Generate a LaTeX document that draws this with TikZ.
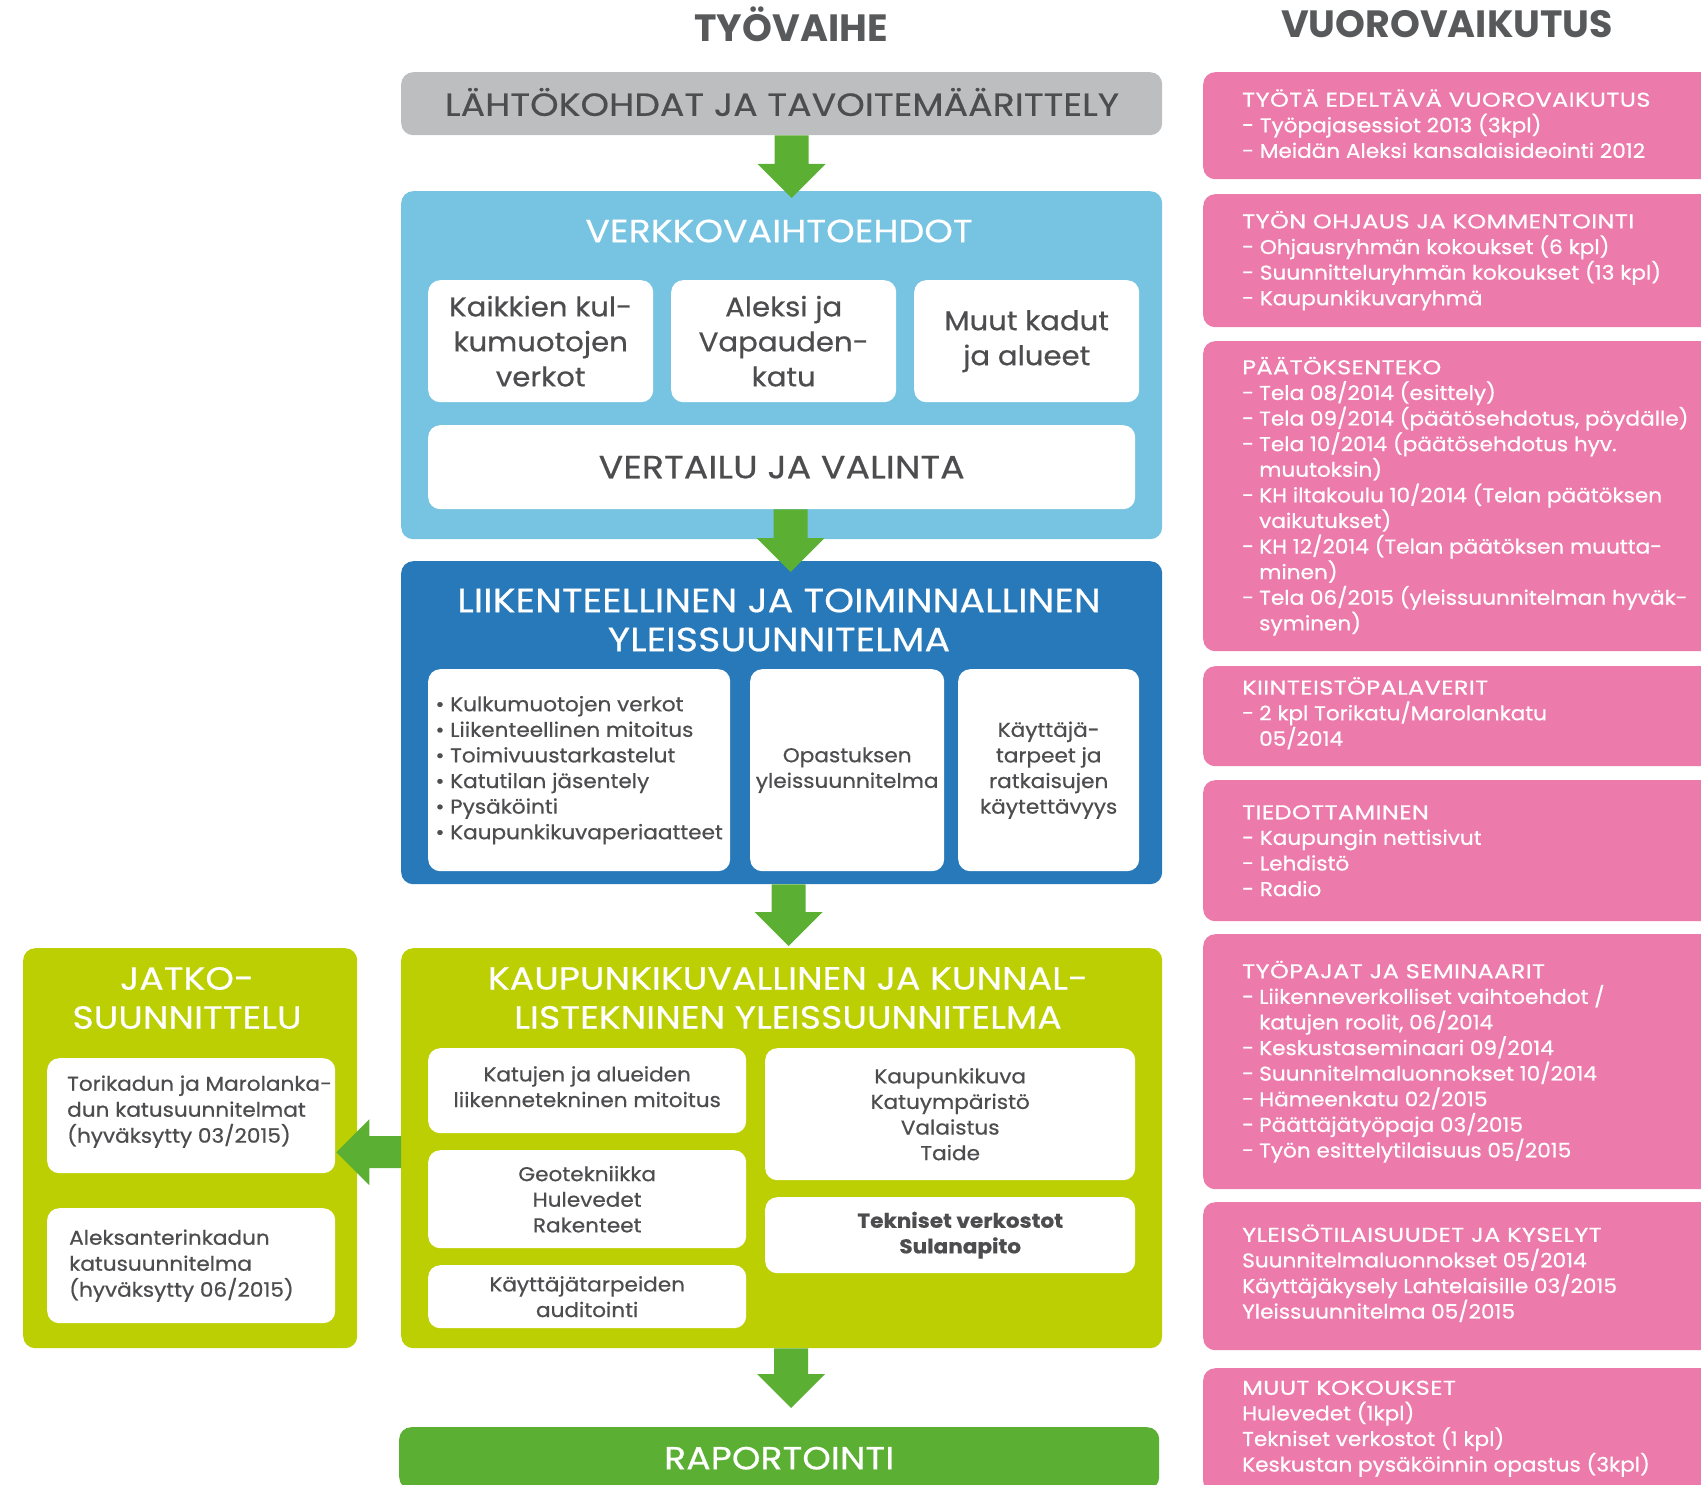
\documentclass[tikz,border=0pt]{standalone}
\usepackage{fontspec}
\setmainfont{Poppins}[FakeStretch=1.08, FakeBold=0.6]
\newfontfamily\capsfont{Poppins}[FakeStretch=1.13, FakeBold=0.6, LetterSpace=0.5]
\newfontfamily\rosecaps{Poppins}[FakeStretch=1.2, FakeBold=0.6, LetterSpace=2]
\newfontfamily\headfont{Poppins}
\usetikzlibrary{calc}

\definecolor{boxgray}{HTML}{BDBEC0}
\definecolor{textgray}{HTML}{4D4D4F}
\definecolor{headgray}{HTML}{58595B}
\definecolor{skyblue}{HTML}{76C4E2}
\definecolor{seablue}{HTML}{2779B9}
\definecolor{lime}{HTML}{BCCF02}
\definecolor{leafgreen}{HTML}{5BAF32}
\definecolor{rose}{HTML}{EC7BAC}

\newcommand\fs[2]{\fontsize{#1}{#2}\selectfont}
\newcommand\itemdash{\makebox[0.85em][l]{-}}
\newcommand\itemgap{\hspace*{0.85em}}

% block arrows: #1 start, #2 tip
\newcommand\arrowdown[2]{%
  \fill[leafgreen] let \p1=#1, \p2=#2 in
    (\x2-17pt,\y1) -- (\x2+17pt,\y1) -- (\x2+17pt,\y2+34pt) -- (\x2+34pt,\y2+34pt)
    -- (\x2,\y2) -- (\x2-34pt,\y2+34pt) -- (\x2-17pt,\y2+34pt) -- cycle;}
\newcommand\arrowleft[2]{%
  \fill[leafgreen] let \p1=#1, \p2=#2 in
    (\x1,\y2-16pt) -- (\x1,\y2+16pt) -- (\x2+33pt,\y2+16pt) -- (\x2+33pt,\y2+33pt)
    -- (\x2,\y2) -- (\x2+33pt,\y2-33pt) -- (\x2+33pt,\y2-16pt) -- cycle;}

\tikzset{
  panel/.style={rounded corners=12, inner sep=0, anchor=north west},
  card/.style={panel, fill=white, text=textgray, align=center, font=\fs{20}{25.6}},
  bigcard/.style={card, font=\fs{27}{35}},
  title/.style={text=white, align=center, inner sep=0, font=\capsfont\fs{32}{39}},
  rosebox/.style={panel, fill=rose, minimum width=520},
  rosetext/.style={anchor=west, align=left, inner sep=0, text=white, font=\fs{20}{25.6}},
  headline/.style={text=headgray, inner sep=0, font=\headfont\bfseries\fs{38}{44}}
}

\begin{document}
\begin{tikzpicture}[x=1pt, y=-1pt]
  \useasboundingbox (0,0) rectangle (1701,1485);
  \clip (0,0) rectangle (1701,1485);

  \node[headline] (tyovaihe) at (791,24) {TYÖVAIHE};
  \node[headline] (vuoro) at (1447,24) {VUOROVAIKUTUS};

  % tyovaihe column
  \node[panel, fill=boxgray, minimum width=761, minimum height=63] (lahto) at (401,72) {};
  \node[title, text=textgray] (lahtot) at (782,102) {LÄHTÖKOHDAT JA TAVOITEMÄÄRITTELY};

  \node[panel, fill=skyblue, minimum width=761, minimum height=348] (verkko) at (401,191) {};
  \node[title] (verkkot) at (779,231) {VERKKOVAIHTOEHDOT};
  \node[bigcard, minimum width=225, minimum height=122] (k1) at (428,280) {Kaikkien kul-\\kumuotojen\\verkot};
  \node[bigcard, minimum width=225, minimum height=122] (k2) at (671,280) {Aleksi ja\\Vapauden-\\katu};
  \node[bigcard, minimum width=225, minimum height=122] (k3) at (914,280) {Muut kadut\\ja alueet};
  \node[card, minimum width=707, minimum height=84, font=\capsfont\fs{32}{39}] (vertailu) at (428,425) {VERTAILU JA VALINTA};

  \node[panel, fill=seablue, minimum width=761, minimum height=323] (liik) at (401,561) {};
  \node[title, font=\capsfont\fs{33.5}{39}] (liikt) at (779,620) {LIIKENTEELLINEN JA TOIMINNALLINEN\\YLEISSUUNNITELMA};
  \node[card, align=left, minimum width=302, minimum height=202] (b1) at (428,669)
    {\textbullet\ Kulkumuotojen verkot\\\textbullet\ Liikenteellinen mitoitus\\\textbullet\ Toimivuustarkastelut\\
     \textbullet\ Katutilan jäsentely\\\textbullet\ Pysäköinti\\\textbullet\ Kaupunkikuvaperiaatteet};
  \node[card, minimum width=194, minimum height=202] (b2) at (750,669) {Opastuksen\\yleissuunnitelma};
  \node[card, minimum width=181, minimum height=202] (b3) at (958,669) {Käyttäjä-\\tarpeet ja\\ratkaisujen\\käytettävyys};

  \node[panel, fill=lime, minimum width=761, minimum height=400] (kaup) at (401,948) {};
  \node[title] (kaupt) at (788,998) {KAUPUNKIKUVALLINEN JA KUNNAL-\\LISTEKNINEN YLEISSUUNNITELMA};
  \node[card, minimum width=318, minimum height=85] (g1) at (428,1048) {};
  \node[text=textgray, align=center, inner sep=0, font=\fs{20}{25.6}] (g1t) at ([yshift=4]g1.center) {Katujen ja alueiden\\liikennetekninen mitoitus};
  \node[card, minimum width=318, minimum height=98] (g2) at (428,1150) {Geotekniikka\\Hulevedet\\Rakenteet};
  \node[card, minimum width=318, minimum height=63] (g3) at (428,1265) {Käyttäjätarpeiden\\auditointi};
  \node[card, minimum width=370, minimum height=132] (g4) at (765,1048) {Kaupunkikuva\\Katuympäristö\\Valaistus\\Taide};
  \node[card, minimum width=370, minimum height=76] (g5) at (765,1197) {};
  \node[text=textgray, align=center, inner sep=0, font=\bfseries\fs{20}{25.6}] (g5t) at ([xshift=10]g5.center) {Tekniset verkostot\\Sulanapito};

  \node[panel, fill=lime, minimum width=334, minimum height=400] (jatko) at (23,948) {};
  \node[title] (jatkot) at (187,998) {JATKO-\\SUUNNITTELU};
  \node[card, minimum width=288, minimum height=115] (j1) at (47,1058) {};
  \node[card, minimum width=288, minimum height=115] (j2) at (47,1208) {};
  \node[rosetext, text=textgray, font=\fs{20}{26}] (j1t) at ([xshift=20,yshift=4]j1.west) {Torikadun ja Marolanka-\\dun katusuunnitelmat\\(hyväksytty 03/2015)};
  \node[rosetext, text=textgray, font=\fs{20}{26}] (j2t) at ([xshift=22]j2.west) {Aleksanterinkadun\\katusuunnitelma\\(hyväksytty 06/2015)};

  \node[panel, fill=leafgreen, minimum width=760, minimum height=62, text=white,
    font=\capsfont\fs{32}{39}] (rap) at (399,1427) {RAPORTOINTI};

  \arrowdown{(lahto.south)}{([xshift=10,yshift=-7]verkko.north)}
  \arrowdown{(vertailu.south)}{([xshift=9,yshift=-11]liik.north)}
  \arrowdown{(liik.south)}{([xshift=7,yshift=2]kaup.north)}
  \arrowdown{(kaup.south)}{([xshift=12,yshift=19]rap.north)}
  \arrowleft{(kaup.west)}{([xshift=-21,yshift=-4]jatko.east)}

  % vuorovaikutus column
  \node[rosebox, minimum height=107] (v1) at (1203,72) {};
  \node[rosebox, minimum height=133] (v2) at (1203,194) {};
  \node[rosebox, minimum height=310] (v3) at (1203,341) {};
  \node[rosebox, minimum height=100] (v4) at (1203,666) {};
  \node[rosebox, minimum height=141] (v5) at (1203,780) {};
  \node[rosebox, minimum height=255] (v6) at (1203,934) {};
  \node[rosebox, minimum height=148] (v7) at (1203,1202) {};
  \node[rosebox, minimum height=125] (v8) at (1203,1368) {};

  \node[rosetext] (v1t) at ([xshift=39,yshift=2]v1.west) {{\rosecaps TYÖTÄ EDELTÄVÄ VUOROVAIKUTUS}\\- Työpajasessiot 2013 (3kpl)\\- Meidän Aleksi kansalaisideointi 2012};
  \node[rosetext] (v2t) at ([xshift=39]v2.west) {{\rosecaps TYÖN OHJAUS JA KOMMENTOINTI}\\- Ohjausryhmän kokoukset (6 kpl)\\- Suunnitteluryhmän kokoukset (13 kpl)\\- Kaupunkikuvaryhmä};
  \node[rosetext] (v3t) at ([xshift=39]v3.west) {{\rosecaps PÄÄTÖKSENTEKO}\\\itemdash Tela 08/2014 (esittely)\\\itemdash Tela 09/2014 (päätösehdotus, pöydälle)\\
    \itemdash Tela 10/2014 (päätösehdotus hyv.\\\itemgap muutoksin)\\\itemdash KH iltakoulu 10/2014 (Telan päätöksen\\\itemgap vaikutukset)\\
    \itemdash KH 12/2014 (Telan päätöksen muutta-\\\itemgap minen)\\\itemdash Tela 06/2015 (yleissuunnitelman hyväk-\\\itemgap syminen)};
  \node[rosetext] (v4t) at ([xshift=39,yshift=3]v4.west) {{\rosecaps KIINTEISTÖPALAVERIT}\\\itemdash 2 kpl Torikatu/Marolankatu\\\itemgap 05/2014};
  \node[rosetext] (v5t) at ([xshift=39]v5.west) {{\rosecaps TIEDOTTAMINEN}\\- Kaupungin nettisivut\\- Lehdistö\\- Radio};
  \node[rosetext] (v6t) at ([xshift=39]v6.west) {{\rosecaps TYÖPAJAT JA SEMINAARIT}\\\itemdash Liikenneverkolliset vaihtoehdot /\\\itemgap katujen roolit, 06/2014\\
    \itemdash Keskustaseminaari 09/2014\\\itemdash Suunnitelmaluonnokset 10/2014\\\itemdash Hämeenkatu 02/2015\\\itemdash Päättäjätyöpaja 03/2015\\\itemdash Työn esittelytilaisuus 05/2015};
  \node[rosetext] (v7t) at ([xshift=39,yshift=3]v7.west) {{\rosecaps YLEISÖTILAISUUDET JA KYSELYT}\\Suunnitelmaluonnokset 05/2014\\Käyttäjäkysely Lahtelaisille 03/2015\\Yleissuunnitelma 05/2015};
  \node[rosetext] (v8t) at ([xshift=39,yshift=2]v8.west) {{\rosecaps MUUT KOKOUKSET}\\Hulevedet (1kpl)\\Tekniset verkostot (1 kpl)\\Keskustan pysäköinnin opastus (3kpl)};
\end{tikzpicture}
\end{document}
